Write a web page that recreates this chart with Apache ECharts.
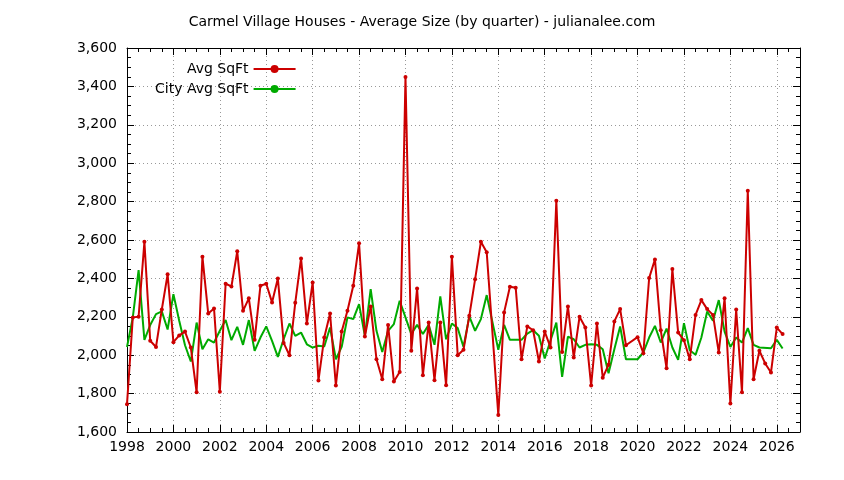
<!DOCTYPE html>
<html><head><meta charset="utf-8">
<script src="https://cdn.jsdelivr.net/npm/echarts@6/dist/echarts.min.js"></script>
<style>html,body{margin:0;padding:0;background:#fff}#c{width:844px;height:480px}</style>
</head><body><div id="c"></div>
<script>
const startYear = 1998;
const avgSqFt = [1744,2197,2200,2591,2075,2043,2238,2421,2068,2103,2123,2040,1807,2513,2217,2243,1810,2372,2358,2541,2231,2296,2080,2362,2372,2275,2400,2064,2000,2273,2504,2165,2379,1868,2092,2217,1842,2123,2231,2362,2583,2097,2254,1979,1875,2157,1863,1913,3449,2023,2348,1896,2170,1870,2170,1843,2513,2000,2028,2205,2395,2591,2536,null,1689,2223,2357,2351,1979,2150,2130,1967,2123,2040,2805,2017,2254,1988,2200,2144,1842,2165,1883,1950,2176,2240,2052,null,2094,2010,2402,2499,2130,1932,2449,2118,2078,1979,2210,2287,2240,2210,2014,2296,1748,2238,1807,2857,1875,2023,1957,1910,2144,2110];
const cityAvgSqFt = [2043,2197,2443,2080,2157,2214,2228,2134,2318,2179,2052,1967,2170,2031,2083,2066,2127,2183,2078,2148,2054,2183,2023,2092,2150,2075,1991,2083,2165,2101,2118,2057,2040,2049,2045,2144,1979,2043,2197,2188,2266,2101,2344,2127,2017,2127,2162,2283,2197,2110,2158,2110,2158,2054,2306,2083,2165,2141,2043,2202,2127,2188,2313,null,2028,2158,2080,null,2080,2113,2130,2101,1983,null,2170,1887,2097,2083,2040,2054,2057,2054,2031,1906,2031,2150,1979,null,1979,2014,2092,2153,2066,2139,2040,1976,2167,2026,2002,2092,2228,2179,2287,2123,2043,2092,2066,2141,2054,2040,null,2036,2080,2035];
const yTicks = [1600,3600,200];
const xTicks = [1998,2027,2];

const toPairs = a => a.map((v,i)=>[startYear + i/4, v]);
const font = 'DejaVu Sans, sans-serif';
const axisCommon = {
  axisLine:{show:true,onZero:false,lineStyle:{color:'#000',width:1}},
  axisTick:{show:true,inside:true,length:7,lineStyle:{color:'#000'}},
  minorTick:{show:true,splitNumber:4,length:4,lineStyle:{color:'#000'}},
};
const chart = echarts.init(document.getElementById('c'));
chart.setOption({
  animation:false,
  title:{text:'Carmel Village Houses - Average Size (by quarter) - julianalee.com',left:'center',top:10,
    textStyle:{fontFamily:font,fontSize:14,fontWeight:'normal',color:'#000'}},
  grid:{left:127,right:44,top:48,bottom:48},
  legend:{orient:'vertical',left:150,top:57,itemGap:6,align:'right',itemWidth:42,itemHeight:10,
    textStyle:{fontFamily:font,fontSize:14,color:'#000',align:'right'},
    data:['Avg SqFt','City Avg SqFt']},
  xAxis:[{type:'value',min:xTicks[0],max:xTicks[1],interval:xTicks[2],position:'bottom',...axisCommon,
    axisLabel:{fontFamily:font,fontSize:14,color:'#000',margin:8,formatter:v=>v>2026?'':String(v)},
    splitLine:{show:true,lineStyle:{color:'#999',type:[1,3],width:1}}},
   {type:'value',min:xTicks[0],max:xTicks[1],interval:xTicks[2],position:'top',...axisCommon,
    axisLabel:{show:false},splitLine:{show:false}}],
  yAxis:[{type:'value',min:yTicks[0],max:yTicks[1],interval:yTicks[2],position:'left',...axisCommon,
    axisLabel:{fontFamily:font,fontSize:14,color:'#000',margin:10},
    splitLine:{show:true,lineStyle:{color:'#999',type:[1,3],width:1}}},
   {type:'value',min:yTicks[0],max:yTicks[1],interval:yTicks[2],position:'right',...axisCommon,
    axisLabel:{show:false},splitLine:{show:false}}],
  series:[
    {name:'Avg SqFt',type:'line',data:toPairs(avgSqFt),connectNulls:true,color:'#cc0000',
     lineStyle:{width:2},symbol:'circle',symbolSize:4,showAllSymbol:true,z:3},
    {name:'City Avg SqFt',type:'line',data:toPairs(cityAvgSqFt),connectNulls:true,color:'#00aa00',
     lineStyle:{width:2},symbol:'none',z:2}
  ]
});
</script></body></html>
